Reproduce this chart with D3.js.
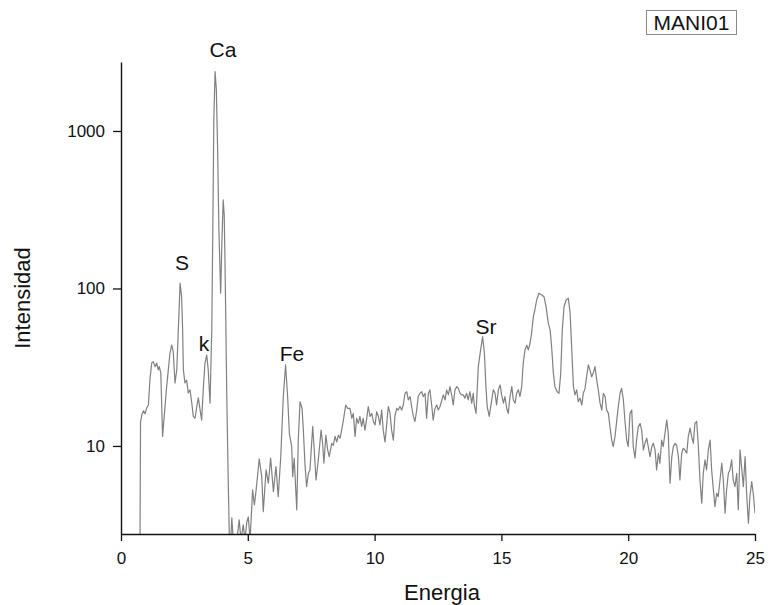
<!DOCTYPE html>
<html>
<head>
<meta charset="utf-8">
<script src="https://cdn.jsdelivr.net/npm/d3@7"></script>
<style>
  html, body { margin: 0; padding: 0; background: #fff; }
  svg { display: block; font-family: Arial, "Liberation Sans", sans-serif; }
</style>
</head>
<body>
<svg id="chart" width="771" height="605"></svg>
<script>
// ---- data ----
const energy = [0.75,0.77,0.83,0.89,0.95,1.01,1.08,1.14,1.21,1.27,1.34,1.41,1.47,1.51,1.57,1.64,1.80,1.93,2.00,2.06,2.13,2.20,2.26,2.33,2.39,2.43,2.46,2.52,2.59,2.65,2.72,2.79,2.85,2.92,2.99,3.05,3.12,3.18,3.25,3.31,3.38,3.44,3.51,3.58,3.62,3.66,3.71,3.76,3.81,3.86,3.93,3.98,4.03,4.07,4.10,4.17,4.22,4.27,4.32,4.37,4.44,4.57,4.66,4.73,4.82,4.89,4.96,5.02,5.09,5.19,5.26,5.32,5.45,5.55,5.61,5.72,5.81,5.90,6.01,6.11,6.20,6.30,6.40,6.49,6.57,6.64,6.73,6.77,6.83,6.93,6.99,7.06,7.14,7.19,7.26,7.32,7.39,7.45,7.56,7.62,7.69,7.78,7.89,7.95,8.00,8.08,8.15,8.21,8.31,8.37,8.44,8.51,8.57,8.64,8.70,8.77,8.86,8.94,9.03,9.10,9.16,9.23,9.29,9.36,9.42,9.49,9.55,9.62,9.69,9.75,9.82,9.89,9.95,10.02,10.08,10.15,10.21,10.28,10.34,10.41,10.48,10.54,10.61,10.67,10.74,10.80,10.87,10.93,11.00,11.07,11.13,11.20,11.27,11.33,11.40,11.46,11.53,11.59,11.66,11.72,11.79,11.86,11.92,11.99,12.05,12.12,12.18,12.25,12.31,12.38,12.45,12.51,12.58,12.71,12.78,12.84,12.91,12.97,13.04,13.10,13.17,13.24,13.30,13.37,13.43,13.50,13.56,13.63,13.69,13.76,13.83,13.89,13.93,14.00,14.09,14.18,14.26,14.33,14.39,14.44,14.52,14.62,14.68,14.75,14.81,14.88,14.95,15.01,15.08,15.14,15.21,15.27,15.34,15.41,15.47,15.54,15.60,15.67,15.73,15.80,15.86,15.93,16.00,16.06,16.13,16.19,16.26,16.32,16.39,16.48,16.59,16.68,16.76,16.85,16.92,16.98,17.05,17.11,17.20,17.27,17.34,17.40,17.47,17.55,17.64,17.71,17.77,17.84,17.90,17.97,18.03,18.10,18.17,18.23,18.30,18.36,18.43,18.49,18.56,18.62,18.69,18.76,18.82,18.89,18.96,19.02,19.09,19.15,19.22,19.28,19.35,19.41,19.48,19.55,19.61,19.68,19.74,19.81,19.87,19.94,20.00,20.07,20.14,20.20,20.27,20.33,20.40,20.47,20.53,20.60,20.66,20.73,20.79,20.86,20.93,20.99,21.06,21.12,21.19,21.25,21.32,21.38,21.45,21.52,21.58,21.65,21.72,21.78,21.85,21.91,21.98,22.04,22.11,22.17,22.24,22.31,22.37,22.44,22.50,22.57,22.63,22.70,22.76,22.83,22.90,22.96,23.03,23.09,23.16,23.23,23.29,23.36,23.42,23.49,23.55,23.62,23.69,23.75,23.82,23.88,23.95,24.01,24.08,24.14,24.21,24.28,24.34,24.41,24.47,24.54,24.61,24.67,24.74,24.80,24.87,24.93,25.00];

const intensity = [2.53,14.2,16.0,16.7,16.0,17.4,18.2,26.2,33.6,34.3,31.9,33.5,30.4,31.9,29.0,11.5,23.8,38.8,43.7,39.7,25.1,30.4,54.6,108,88.7,54.6,30.4,25.1,26.2,21.7,22.7,18.8,15.4,15.0,17.8,20.2,16.9,14.6,23.8,33.5,37.8,30.4,18.7,54.6,235,1175,2380,1820,757,235,93.3,203,365,293,152,21.7,7.04,2.76,2.35,3.49,2.35,2.53,3.39,2.53,3.15,2.53,3.29,3.54,2.53,5.26,4.22,5.11,8.27,6.38,3.83,7.04,5.80,8.36,5.13,7.39,4.76,8.56,20.6,32.7,20.6,12.0,9.90,6.38,8.36,3.93,10.9,19.1,17.3,12.6,7.39,5.52,6.71,7.04,13.3,9.43,6.08,8.15,12.6,10.4,7.77,11.7,9.43,8.56,10.4,10.1,11.5,10.6,11.7,11.2,12.6,14.6,18.2,17.3,17.3,15.0,16.1,11.5,15.0,13.9,15.4,13.3,15.0,12.6,15.0,17.8,15.4,16.1,14.3,13.6,16.5,15.4,13.6,16.9,12.6,10.6,13.9,17.8,16.1,12.6,10.9,15.4,17.3,16.9,17.8,16.9,18.2,21.6,22.1,19.6,20.6,17.8,15.4,14.3,16.9,20.6,21.6,22.1,20.6,21.6,15.0,21.6,22.7,18.2,14.6,17.3,18.2,16.9,17.8,21.1,19.6,22.7,21.1,23.8,21.1,18.2,22.7,23.8,23.2,21.6,21.1,21.1,20.1,21.6,19.6,22.1,18.7,21.6,18.2,16.1,31.9,40.7,49.4,38.8,23.8,17.8,15.4,19.6,22.7,21.6,18.2,22.7,24.4,21.1,18.7,20.6,17.3,16.1,20.6,23.8,19.6,18.7,21.6,22.7,20.6,23.8,33.5,40.7,43.7,40.7,44.9,52.0,66.2,73.0,84.5,93.3,91.0,88.7,76.6,60.1,54.6,42.7,28.9,23.8,22.1,21.6,28.9,54.6,76.6,84.5,86.6,69.6,42.7,23.8,21.1,22.7,19.1,20.1,18.2,21.6,23.2,27.5,32.7,30.4,27.5,28.9,31.9,26.2,22.7,18.7,16.9,21.6,20.6,16.9,16.1,13.3,10.9,9.90,11.5,14.6,17.8,21.6,23.2,19.6,14.6,10.9,9.90,16.1,16.9,9.90,8.36,10.9,13.3,13.9,12.6,9.43,10.4,11.2,9.90,8.56,9.90,10.4,9.43,7.04,8.99,7.77,10.9,9.90,12.0,14.6,12.0,5.80,8.56,9.90,10.4,10.1,8.56,6.08,8.99,9.67,9.43,8.99,11.5,13.0,11.5,10.4,13.9,14.3,10.4,6.08,4.33,6.71,8.15,7.04,9.43,10.9,7.04,5.26,4.12,5.01,4.76,6.08,7.77,6.08,3.74,5.26,6.71,7.04,8.15,6.08,5.52,6.71,3.93,9.43,7.39,5.52,8.56,5.01,3.23,4.76,5.93,5.01,3.74];

const xMajorTicks = [0, 5, 10, 15, 20, 25];
const xMinorTicks = [2.5, 7.5, 12.5, 17.5, 22.5];
const yMajorTicks = [10, 100, 1000];
const yMinorTicks = [3,4,5,6,7,8,9,20,30,40,50,60,70,80,90,200,300,400,500,600,700,800,900,2000];
const xDomain = [0, 25];
const yDomain = [2.76, 2742];

// peak annotations: element label and anchor (energy, intensity at text baseline)
const peakNames = ["Ca", "S", "k", "Fe", "Sr"];
const peakEnergy = [4.02, 2.41, 3.27, 6.74, 14.39];
const peakIntensity = [2950, 131, 40.1, 34.7, 51.4];

const legendLabel = "MANI01";
const xTitle = "Energia";
const yTitle = "Intensidad";

// ---- layout ----
const W = 771, H = 605;
const m = { left: 121, right: 16, top: 62, bottom: 71 };
const svg = d3.select("#chart");

const x = d3.scaleLinear().domain(xDomain).range([m.left, W - m.right]);
const y = d3.scaleLog().domain(yDomain).range([H - m.bottom, m.top]);

const points = energy.map((e, i) => ({ e, v: intensity[i] }));

svg.append("defs").append("clipPath").attr("id", "plotclip")
  .append("rect")
  .attr("x", m.left).attr("y", m.top)
  .attr("width", W - m.left - m.right)
  .attr("height", H - m.top - m.bottom);

// spectrum line
const line = d3.line().x(d => x(d.e)).y(d => y(d.v));
svg.append("path")
  .datum(points)
  .attr("clip-path", "url(#plotclip)")
  .attr("fill", "none")
  .attr("stroke", "#808080")
  .attr("stroke-width", 1.2)
  .attr("stroke-linejoin", "round")
  .attr("d", line);

// x axis
const gx = svg.append("g").attr("transform", `translate(0,${H - m.bottom})`);
gx.call(d3.axisBottom(x).tickValues(xMinorTicks).tickSize(4).tickFormat(""));
gx.call(d3.axisBottom(x).tickValues(xMajorTicks).tickSize(7).tickSizeOuter(0).tickPadding(11).tickFormat(d3.format("d")));

// y axis
const gy = svg.append("g").attr("transform", `translate(${m.left},0)`);
gy.call(d3.axisLeft(y).tickValues(yMinorTicks).tickSize(5).tickFormat(""));
gy.call(d3.axisLeft(y).tickValues(yMajorTicks).tickSize(8).tickSizeOuter(0).tickPadding(8).tickFormat(d3.format("d")));

svg.selectAll(".domain").attr("stroke", "#111").attr("stroke-width", 1.4);
svg.selectAll(".tick line").attr("stroke", "#111").attr("stroke-width", 1.3);
svg.selectAll(".tick text").attr("font-size", 17).attr("fill", "#111")
  .attr("font-family", "Arial, 'Liberation Sans', sans-serif");

// axis titles
svg.append("text")
  .attr("x", (m.left + W - m.right) / 2 + 4)
  .attr("y", 600)
  .attr("text-anchor", "middle")
  .attr("font-size", 22)
  .attr("fill", "#111")
  .text(xTitle);

svg.append("text")
  .attr("transform", `translate(30,${298}) rotate(-90)`)
  .attr("text-anchor", "middle")
  .attr("font-size", 22)
  .attr("fill", "#111")
  .text(yTitle);

// peak labels
svg.append("g").selectAll("text")
  .data(peakNames)
  .join("text")
  .attr("x", (d, i) => x(peakEnergy[i]))
  .attr("y", (d, i) => y(peakIntensity[i]))
  .attr("text-anchor", "middle")
  .attr("font-size", 21)
  .attr("fill", "#111")
  .text(d => d);

// legend box
const lg = svg.append("g");
lg.append("rect")
  .attr("x", 646.5).attr("y", 10.5)
  .attr("width", 90).attr("height", 24)
  .attr("fill", "#fff")
  .attr("stroke", "#8a8a8a")
  .attr("stroke-width", 1);
lg.append("text")
  .attr("x", 691.5).attr("y", 30)
  .attr("text-anchor", "middle")
  .attr("font-size", 21)
  .attr("fill", "#111")
  .text(legendLabel);
</script>
</body>
</html>
